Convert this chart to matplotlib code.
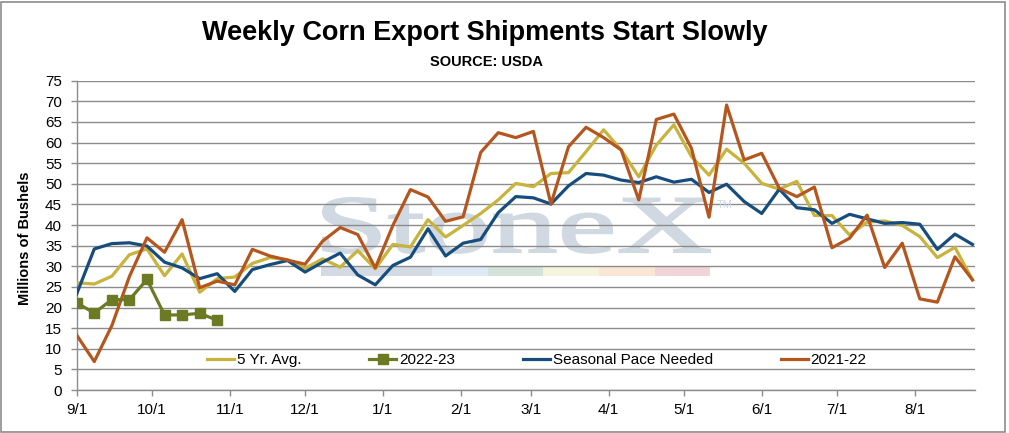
import numpy as np
import matplotlib
matplotlib.use("Agg")
import matplotlib.pyplot as plt
from matplotlib.patches import Rectangle, PathPatch
from matplotlib.textpath import TextPath
from matplotlib.font_manager import FontProperties
from matplotlib.transforms import Affine2D

plt.rcParams['font.family'] = ['Liberation Sans', 'DejaVu Sans']

# figure size in pixels
W, H = 1009, 433

# month ticks, as days after 9/1
month_labels = ["9/1", "10/1", "11/1", "12/1", "1/1", "2/1", "3/1", "4/1", "5/1", "6/1", "7/1", "8/1"]
month_days = [0, 30, 61, 91, 122, 153, 181, 212, 242, 273, 303, 334]

# weekly values, millions of bushels
five_yr_avg = [26.0, 25.7, 27.6, 32.8, 34.2, 27.7, 33.0, 23.7, 27.0, 27.4, 30.7, 32.1,
               31.6, 29.5, 31.8, 29.8, 33.8, 29.4, 35.3, 34.7, 41.3, 37.1, 39.9, 42.8,
               46.1, 50.1, 49.3, 52.5, 52.7, 57.8, 63.1, 58.2, 51.7, 59.4, 64.3, 56.6,
               52.1, 58.4, 55.0, 50.1, 48.7, 50.6, 42.3, 42.3, 37.6, 40.7, 41.0, 39.9,
               37.2, 32.1, 34.6, 26.7]
season_pace = [23.3, 34.2, 35.5, 35.7, 34.9, 31.0, 29.6, 27.0, 28.2, 23.9, 29.2, 30.4,
               31.4, 28.6, 31.0, 33.2, 27.9, 25.5, 30.2, 32.2, 39.1, 32.5, 35.6, 36.5,
               43.0, 46.9, 46.6, 45.1, 49.5, 52.5, 52.1, 50.9, 50.3, 51.7, 50.4, 51.1,
               47.9, 49.9, 45.7, 42.8, 48.7, 44.2, 43.7, 40.4, 42.6, 41.5, 40.4, 40.6,
               40.2, 34.1, 37.8, 35.3]
y2021_22 = [13.3, 6.9, 15.6, 27.5, 36.9, 33.4, 41.3, 24.8, 26.4, 25.5, 34.1, 32.5,
            31.5, 30.5, 36.1, 39.4, 37.7, 29.6, 39.9, 48.6, 46.8, 40.9, 42.0, 57.6,
            62.4, 61.2, 62.7, 45.1, 59.0, 63.7, 61.2, 58.2, 46.1, 65.6, 66.9, 58.6,
            41.9, 69.1, 55.8, 57.4, 48.9, 46.9, 49.2, 34.5, 36.8, 42.4, 29.7, 35.6,
            22.1, 21.3, 32.3, 26.7]
y2022_23 = [21.1, 18.7, 21.9, 21.9, 26.8, 18.2, 18.2, 18.6, 16.9]

week_days = np.arange(len(five_yr_avg)) * 7
week_days_2223 = np.arange(len(y2022_23)) * 7

fig = plt.figure(figsize=(W / 100, H / 100), dpi=100)
ax = fig.add_axes([76.7 / W, 1 - 390 / H, (975 - 76.7) / W, (390 - 80.7) / H])

# lines
ax.plot(week_days, five_yr_avg, color="#C8B33C", lw=2.3, label="5 Yr. Avg.", zorder=3)
ax.plot(week_days_2223, y2022_23, color="#6B7A23", lw=2.3, marker="s", markersize=7.5,
        label="2022-23", zorder=4)
ax.plot(week_days, season_pace, color="#174D7C", lw=2.3, label="Seasonal Pace Needed", zorder=3)
ax.plot(week_days, y2021_22, color="#B4561E", lw=2.3, label="2021-22", zorder=3)

ax.set_xlim(0, 358)
ax.set_ylim(0, 75)
ax.set_yticks(np.arange(0, 76, 5))
ax.set_xticks(month_days)
ax.set_xticklabels(month_labels)

ax.set_axisbelow(True)
ax.grid(axis="y", color="#8C8C8C", lw=1.0)
for s in ["top", "right"]:
    ax.spines[s].set_visible(False)
for s in ["left", "bottom"]:
    ax.spines[s].set_color("#8C8C8C")
    ax.spines[s].set_linewidth(1.0)
ax.tick_params(axis="both", colors="#8C8C8C", labelcolor="black", labelsize=11, length=4.5, width=1)
ax.tick_params(axis="y", pad=6)
ax.tick_params(axis="x", pad=5)

ax.set_ylabel("Millions of Bushels", fontsize=10.5, fontweight="bold")
ax.yaxis.set_label_coords(-0.050, 0.49)

# legend across the bottom
leg = ax.legend(loc="center left", bbox_to_anchor=(0.145, 0.097), ncol=4, frameon=False,
                fontsize=11, handlelength=1.75, handletextpad=0.2, columnspacing=4.45,
                borderpad=0, borderaxespad=0)

# titles
fig.text(485 / W, 1 - 40 / H, "Weekly Corn Export Shipments Start Slowly", ha="center",
         va="baseline", fontsize=19.5, fontweight="bold")
fig.text(487 / W, 1 - 66 / H, "SOURCE: USDA", ha="center", va="baseline",
         fontsize=10.5, fontweight="bold")

# watermark logo behind the grid
to_fig = Affine2D().scale(1 / W, 1 / H) + fig.transFigure
tp = TextPath((0, 0), "StoneX", size=1, prop=FontProperties(family="Liberation Serif"))
ext = tp.get_extents()
sx = (710 - 323) / ext.width
sy = 54 / ext.y1
path = Affine2D().translate(-ext.x0, 0).scale(sx, sy).translate(323, H - 252).transform_path(tp)
ax.add_patch(PathPatch(path, facecolor="#D0D8E1", edgecolor="#D0D8E1", lw=1.5, transform=to_fig,
                       clip_on=False, zorder=0.2))
fig.text(717 / W, 1 - 208 / H, "TM", fontsize=8, color="#D0D8E1")

bar_edges = [321, 432, 488, 543, 599, 655, 710]
bar_colors = ["#D3DAE3", "#DDE9F3", "#D3E2DA", "#F6F4DC", "#F9E6D4", "#F1D4D7"]
for i in range(len(bar_colors)):
    ax.add_patch(Rectangle((bar_edges[i], H - 276), bar_edges[i + 1] - bar_edges[i], 9,
                           facecolor=bar_colors[i], edgecolor="none", transform=to_fig,
                           clip_on=False, zorder=0.2))

# outer border
fig.patches.append(Rectangle((1 / W, 1 / H), 1004 / W, 430 / H, fill=False,
                             edgecolor="#8C8C8C", lw=1.2, transform=fig.transFigure))

fig.savefig("out.png", dpi=100)
